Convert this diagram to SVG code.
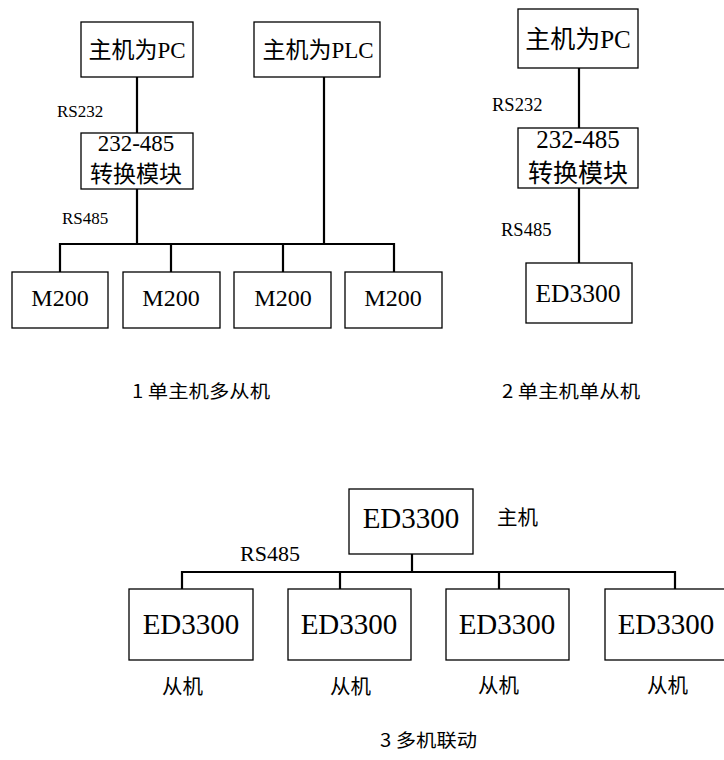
<svg xmlns="http://www.w3.org/2000/svg" width="724" height="760" viewBox="0 0 724 760">
<style>
.box{fill:#fff;stroke:#000;stroke-width:1.3}
.ln{fill:none;stroke:#000;stroke-width:2.2}
text{font-family:"Liberation Serif","Noto Sans CJK SC",serif;fill:#000}
.c{text-anchor:middle}
.cap{font-family:"Noto Sans CJK SC",sans-serif;font-size:18px}
</style>
<rect width="724" height="760" fill="#fff"/>
<g id="connectors">
<path class="ln" d="M137 77V133M137 189V244M324 77V244M60 244H394M60 243V272M171 243V272M283 243V272M394 243V272"/>
<path class="ln" d="M579 68V128M579 188V263"/>
<path class="ln" d="M412 554V573M182 572H676M182 571V589M340 571V589M499 571V589M675 571V589"/>
</g>
<g id="pc1"><rect class="box" x="81" y="22" width="112" height="55"/><text class="c" x="137" y="58" font-size="23">主机为PC</text></g>
<g id="plc"><rect class="box" x="254" y="22" width="126" height="55"/><text class="c" x="318" y="58" font-size="23">主机为PLC</text></g>
<g id="conv1"><rect class="box" x="81" y="133" width="112" height="56"/><text class="c" x="136" y="151" font-size="23">232-485</text><text class="c" x="136" y="182" font-size="23">转换模块</text></g>
<g id="lbl1"><text x="57" y="117" font-size="17">RS232</text><text x="62" y="224" font-size="17">RS485</text></g>
<g id="m1"><rect class="box" x="12" y="272" width="96" height="56"/><text class="c" x="60" y="306" font-size="24">M200</text></g>
<g id="m2"><rect class="box" x="123" y="272" width="97" height="56"/><text class="c" x="171" y="306" font-size="24">M200</text></g>
<g id="m3"><rect class="box" x="234" y="272" width="97" height="56"/><text class="c" x="283" y="306" font-size="24">M200</text></g>
<g id="m4"><rect class="box" x="345" y="272" width="97" height="56"/><text class="c" x="393" y="306" font-size="24">M200</text></g>
<g id="pc2"><rect class="box" x="518" y="9" width="120" height="59"/><text class="c" x="578" y="48" font-size="25">主机为PC</text></g>
<g id="conv2"><rect class="box" x="518" y="128" width="120" height="60"/><text class="c" x="578" y="148" font-size="25">232-485</text><text class="c" x="578" y="182" font-size="25">转换模块</text></g>
<g id="lbl2"><text x="492" y="111" font-size="18.5">RS232</text><text x="501" y="236" font-size="18.5">RS485</text></g>
<g id="ed2"><rect class="box" x="526" y="263" width="106" height="60"/><text class="c" x="578" y="302" font-size="25.5">ED3300</text></g>
<g id="cap1"><text class="cap" x="132" y="398" textLength="138" lengthAdjust="spacingAndGlyphs">1 单主机多从机</text></g>
<g id="cap2"><text class="cap" x="502" y="398" textLength="138" lengthAdjust="spacingAndGlyphs">2 单主机单从机</text></g>
<g id="master"><rect class="box" x="349" y="489" width="124" height="65"/><text class="c" x="411" y="528" font-size="29">ED3300</text><text x="497" y="525" font-size="20.5">主机</text></g>
<g id="lbl3"><text x="240" y="561" font-size="22">RS485</text></g>
<g id="s1"><rect class="box" x="129" y="589" width="124" height="71"/><text class="c" x="191" y="634" font-size="29">ED3300</text><text x="162" y="694" font-size="20.5">从机</text></g>
<g id="s2"><rect class="box" x="288" y="589" width="123" height="71"/><text class="c" x="349" y="634" font-size="29">ED3300</text><text x="330" y="694" font-size="20.5">从机</text></g>
<g id="s3"><rect class="box" x="446" y="589" width="123" height="71"/><text class="c" x="507" y="634" font-size="29">ED3300</text><text x="478" y="693" font-size="20.5">从机</text></g>
<g id="s4"><rect class="box" x="605" y="589" width="124" height="71"/><text class="c" x="666" y="634" font-size="29">ED3300</text><text x="647" y="693" font-size="20.5">从机</text></g>
<g id="cap3"><text class="cap" x="380" y="747" textLength="97" lengthAdjust="spacingAndGlyphs">3 多机联动</text></g>
</svg>
